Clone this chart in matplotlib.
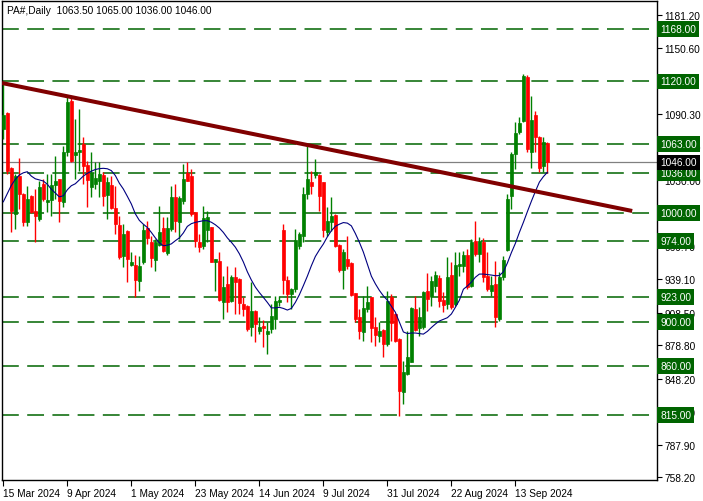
import matplotlib
matplotlib.use("Agg")
import matplotlib.pyplot as plt
import matplotlib.transforms as mtransforms
import numpy as np

plt.rcParams['font.family'] = ['Liberation Sans', 'DejaVu Sans']

# ---------------- data ----------------
opens = [1076.5, 1090.9, 1040.6, 998.8, 1033.3, 1017.1, 991.2, 1015.6, 1001.8, 994.2,
         1026.2, 1010.2, 1011.9, 1025.3, 1030.8, 1010.2, 1055.8, 1102.4, 1052.8, 1055.8,
         1062.5, 1043.6, 1023.2, 1026.3, 1029.3, 1034.5, 1016.4, 1025.3, 1004.0, 988.8,
         960.5, 983.6, 952.2, 952.2, 937.9, 954.6, 985.7, 972.9, 957.2, 970.5,
         985.7, 963.0, 985.1, 1014.1, 991.8, 1011.0, 1036.3, 1033.8, 1000.4, 973.5,
         969.8, 984.0, 986.7, 954.6, 956.1, 918.0, 934.8, 919.5, 940.9, 939.4,
         916.5, 915.0, 895.2, 910.4, 892.1, 896.7, 889.0, 893.6, 902.8, 918.6,
         984.5, 938.8, 925.7, 930.5, 969.9, 979.0, 1017.1, 1028.4, 1034.5, 1034.5,
         1027.8, 982.1, 991.2, 998.0, 970.5, 947.9, 957.7, 954.0, 926.6, 904.4,
         890.6, 912.0, 922.6, 895.2, 887.5, 893.0, 879.9, 922.6, 907.4, 884.5,
         835.8, 852.5, 863.8, 911.9, 894.3, 895.2, 928.0, 924.2, 932.7, 940.0,
         920.4, 916.5, 943.0, 916.5, 951.5, 951.5, 961.3, 933.3, 974.4, 962.2,
         972.9, 942.4, 928.7, 934.8, 902.8, 940.9, 966.2, 1015.6, 1053.7, 1074.1,
         1084.1, 1123.8, 1055.8, 1089.3, 1069.0, 1043.0, 1063.5]
highs = [1119.0, 1092.0, 1041.8, 1035.4, 1049.8, 1018.0, 1024.7, 1016.0, 1021.7, 1029.3,
         1030.8, 1035.4, 1035.4, 1052.2, 1031.0, 1061.3, 1106.7, 1107.0, 1085.7, 1094.8,
         1069.2, 1047.6, 1055.2, 1046.1, 1046.1, 1036.9, 1032.4, 1033.8, 1024.7, 997.3,
         989.7, 984.0, 963.8, 961.3, 960.7, 989.7, 992.7, 978.4, 976.0, 1006.4,
         995.8, 995.8, 1024.7, 1026.2, 1015.6, 1044.5, 1046.6, 1040.0, 1001.0, 980.5,
         1006.4, 1001.8, 987.0, 958.0, 963.8, 942.4, 951.5, 943.0, 950.0, 940.0,
         922.6, 915.5, 936.4, 911.0, 904.4, 902.2, 899.8, 916.5, 924.2, 924.2,
         989.7, 942.4, 931.0, 985.1, 982.0, 1023.2, 1061.3, 1038.4, 1049.1, 1035.0,
         1028.5, 1005.0, 1014.1, 998.5, 971.0, 966.8, 979.0, 955.0, 927.0, 912.0,
         924.2, 933.3, 923.0, 904.4, 899.8, 893.5, 928.7, 925.7, 908.0, 885.0,
         864.7, 892.1, 913.5, 923.6, 913.5, 928.4, 944.5, 942.4, 947.0, 943.0,
         927.2, 959.2, 954.6, 963.8, 964.4, 965.3, 966.8, 976.0, 992.7, 977.5,
         976.6, 963.8, 942.4, 956.1, 945.5, 960.7, 1017.1, 1055.2, 1082.7, 1087.2,
         1126.8, 1125.9, 1107.0, 1093.3, 1070.4, 1069.0, 1065.0]
lows = [1067.0, 1035.4, 982.0, 985.0, 1003.4, 988.0, 988.0, 1000.0, 973.0, 992.7,
        1011.0, 1000.4, 997.3, 1012.5, 991.2, 1005.0, 1052.0, 1046.0, 1030.8, 1038.4,
        1026.2, 1005.0, 1014.1, 1021.7, 1014.1, 1006.4, 994.2, 1003.4, 980.2, 957.7,
        950.0, 936.4, 951.5, 922.6, 928.7, 953.0, 971.4, 950.0, 947.0, 969.8,
        963.8, 961.0, 983.6, 982.0, 976.0, 1008.0, 1029.0, 997.3, 968.4, 963.8,
        966.8, 973.0, 954.6, 928.7, 919.5, 902.8, 909.5, 918.0, 907.4, 907.4,
        905.8, 892.1, 887.5, 881.5, 889.0, 876.9, 870.8, 890.0, 893.6, 915.0,
        925.7, 918.0, 912.0, 927.2, 966.8, 973.0, 1012.5, 1017.1, 1032.0, 1001.8,
        977.5, 979.0, 983.6, 968.4, 945.5, 930.2, 948.5, 924.2, 899.8, 884.5,
        883.0, 909.0, 881.5, 878.4, 881.5, 867.8, 878.4, 883.0, 881.5, 814.4,
        825.0, 852.0, 863.2, 892.1, 887.5, 894.0, 910.0, 915.0, 927.2, 913.5,
        909.0, 912.0, 912.0, 915.0, 942.4, 945.5, 930.2, 932.0, 960.7, 955.2,
        936.4, 928.7, 924.2, 895.2, 901.3, 938.7, 965.3, 1003.4, 1040.0, 1072.0,
        1082.7, 1055.2, 1040.6, 1055.2, 1036.9, 1036.9, 1036.0]
closes = [1089.0, 1038.4, 1001.8, 1033.8, 1017.2, 991.2, 1012.5, 1000.9, 997.3, 1023.2,
          1012.5, 1012.0, 1025.3, 1029.3, 1011.0, 1055.8, 1101.5, 1047.6, 1055.8, 1057.6,
          1042.4, 1030.2, 1036.3, 1031.5, 1035.4, 1015.6, 1027.8, 1004.0, 989.7, 959.2,
          980.5, 957.7, 954.6, 938.8, 951.6, 984.2, 976.6, 958.3, 973.5, 982.0,
          965.2, 985.7, 1014.1, 992.7, 1013.2, 1030.8, 1029.3, 998.8, 974.4, 968.4,
          994.9, 996.0, 955.2, 957.7, 920.4, 931.8, 918.6, 940.9, 936.9, 917.4,
          912.0, 893.6, 910.4, 898.2, 895.2, 894.3, 892.1, 905.8, 919.5, 920.2,
          938.8, 925.7, 930.2, 975.3, 980.5, 1017.1, 1030.8, 1024.7, 1036.9, 1015.6,
          984.5, 992.7, 997.3, 969.8, 947.9, 963.8, 951.5, 924.7, 902.8, 892.1,
          912.6, 918.0, 894.3, 888.2, 892.1, 879.9, 919.5, 899.1, 883.0, 837.2,
          854.0, 867.8, 912.6, 893.0, 904.4, 927.8, 921.0, 937.9, 943.0, 919.5,
          915.6, 940.9, 913.5, 952.2, 952.8, 961.3, 931.8, 973.5, 962.2, 974.4,
          940.9, 930.2, 933.9, 904.4, 940.9, 957.0, 1012.5, 1053.7, 1072.9, 1082.1,
          1125.3, 1058.3, 1085.0, 1069.0, 1040.6, 1065.0, 1046.0]
ma_values = [1010, 1017.5, 1025, 1030.5, 1034.5, 1036.5, 1037.5, 1033.5, 1031, 1030,
             1029, 1026, 1021.5, 1018, 1014.5, 1015.5, 1021, 1024.7, 1026.5, 1030,
             1033.5, 1036, 1038,
             1039.5, 1040.3, 1040.6, 1040.2, 1038.5, 1034, 1027, 1021.7, 1015, 1008,
             999, 993, 989.5, 986.5, 982, 977, 972.5, 969.8, 970.3, 971.5, 974.4, 977, 981.5,
             987.5, 990, 991.2, 992, 992.7, 992.7, 991.3, 989, 986, 982, 977, 973, 968.5,
             962.5, 955, 946, 938.5, 932, 927, 922.6, 918, 913,
             913, 913.5, 912.5, 911, 912.5, 918, 925, 933.3, 942, 951.5, 960, 966, 971.4,
             978, 983.5, 987.6, 989.5, 991, 990.5, 988, 981, 973, 964, 953,
             942, 935, 929, 924, 920, 914.5, 909, 900, 891, 889.5, 890, 890, 889.5, 889,
             891.5, 895, 898.2, 901, 902.5, 904, 907.4, 913.5, 920,
             930, 933, 936.5, 941, 943.9, 943.9, 943.5, 943, 942.4, 942.5, 946, 954, 963.5,
             972, 982, 991.2, 1001, 1010.5, 1019.5, 1028, 1033, 1037]

levels = [1168.0, 1120.0, 1063.0, 1036.0, 1000.0, 974.0, 923.0, 900.0, 860.0, 815.0]
current_price = 1046.0
trend_x = [-0.33, 157.2]
trend_y = [1118.6, 1001.6]

date_tick_bars = [0, 16, 32, 48, 64, 80, 96, 112, 128]
date_tick_labels = ["15 Mar 2024", "9 Apr 2024", "1 May 2024", "23 May 2024",
                    "14 Jun 2024", "9 Jul 2024", "31 Jul 2024", "22 Aug 2024",
                    "13 Sep 2024"]
price_ticks = [1181.20, 1150.60, 1120.00, 1090.30, 1059.70, 1030.00, 999.40,
               969.70, 939.10, 908.50, 878.80, 848.20, 817.60, 787.90, 758.20]
# tick labels fully hidden behind level boxes in the reference
hidden_tick_labels = [1120.00, 999.40]
title_text = "PA#,Daily  1063.50 1065.00 1036.00 1046.00"

# ---------------- figure ----------------
W, H = 703, 502
fig = plt.figure(figsize=(W / 100, H / 100), dpi=100)
ax = fig.add_axes([2 / W, (H - 481) / H, (657 - 2) / W, (481 - 2) / H])
ax.set_xlim(-0.33, 163.4)
ax.set_ylim(755.6, 1193.6)

o = np.array(opens); h = np.array(highs); l = np.array(lows); c = np.array(closes)
x = np.arange(len(o))
up = c >= o
cols = np.where(up, '#008000', '#ff0000')

# level lines
for lv in levels:
    ax.axhline(lv, color='#006400', lw=1.1, linestyle=(0, (11, 5.5)), zorder=1)
ax.axhline(current_price, color='#808080', lw=0.9, zorder=1)

# candles
ax.vlines(x, l, h, colors=cols, lw=1.0, zorder=3)
body_bottom = np.minimum(o, c)
body_h = np.maximum(np.abs(c - o), 0.8)
ax.bar(x, body_h, bottom=body_bottom, width=0.62, color=cols, edgecolor=cols,
       linewidth=0.5, zorder=4)

# moving average
ax.plot(x, ma_values, color='#000080', lw=0.8, zorder=5)

# trend line
ax.plot(trend_x, trend_y, color='#800000', lw=2.9, solid_capstyle='butt', zorder=6)

# axes styling
for s in ax.spines.values():
    s.set_color('black')
    s.set_linewidth(1.0)
ax.yaxis.tick_right()
ax.set_yticks(price_ticks)
ax.set_yticklabels(["" if v in hidden_tick_labels else f"{v:.2f}" for v in price_ticks])
ax.tick_params(axis='y', direction='out', length=3.5, width=0.8, pad=2,
               labelsize=7.3, colors='black')
ax.set_xticks(date_tick_bars)
ax.set_xticklabels(date_tick_labels, ha='left')
ax.tick_params(axis='x', direction='out', length=4, width=0.8, pad=2,
               labelsize=7.3, colors='black')

# level labels on right axis
trans = mtransforms.blended_transform_factory(ax.transAxes, ax.transData)
for lv in levels:
    ax.text(1.005, lv, f"{lv:.2f}", transform=trans, ha='left', va='center',
            fontsize=7.3, color='white', clip_on=False, zorder=10,
            bbox=dict(boxstyle='square,pad=0.28', fc='#006400', ec='none'))
ax.text(1.005, current_price, f"{current_price:.2f}", transform=trans, ha='left',
        va='center', fontsize=7.3, color='white', clip_on=False, zorder=11,
        bbox=dict(boxstyle='square,pad=0.28', fc='black', ec='none'))

ax.text(0.0076, 0.981, title_text, transform=ax.transAxes, ha='left', va='center',
        fontsize=7.3, color='black')

fig.savefig("out.png", dpi=100, facecolor='white')
